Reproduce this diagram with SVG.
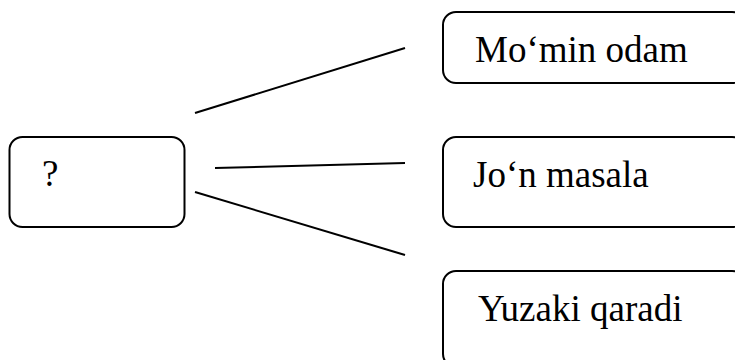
<svg xmlns="http://www.w3.org/2000/svg" width="735" height="360" viewBox="0 0 735 360">
<style>
.box{fill:#fff;stroke:#000;stroke-width:2}
.lbl{font-family:"Liberation Serif","Times New Roman",serif;font-size:37px;fill:#000}
.conn line{stroke:#000;stroke-width:2}
</style>
<rect width="735" height="360" fill="#fff"/>
<g id="node-q">
<rect class="box" x="9.5" y="137" width="175" height="90" rx="13"/>
<text class="lbl" x="42" y="186">?</text>
</g>
<g id="node-1">
<rect class="box" x="443" y="12" width="302" height="71" rx="13"/>
<text class="lbl" x="475" y="62">Mo‘min odam</text>
</g>
<g id="node-2">
<rect class="box" x="443" y="137" width="302" height="90" rx="13"/>
<text class="lbl" x="473" y="187">Jo‘n masala</text>
</g>
<g id="node-3">
<rect class="box" x="443" y="271" width="302" height="96" rx="13"/>
<text class="lbl" x="478" y="321">Yuzaki qaradi</text>
</g>
<g id="connectors" class="conn">
<line x1="195" y1="113" x2="405" y2="48"/>
<line x1="215" y1="168" x2="405" y2="163"/>
<line x1="195" y1="192" x2="405" y2="255"/>
</g>
</svg>
